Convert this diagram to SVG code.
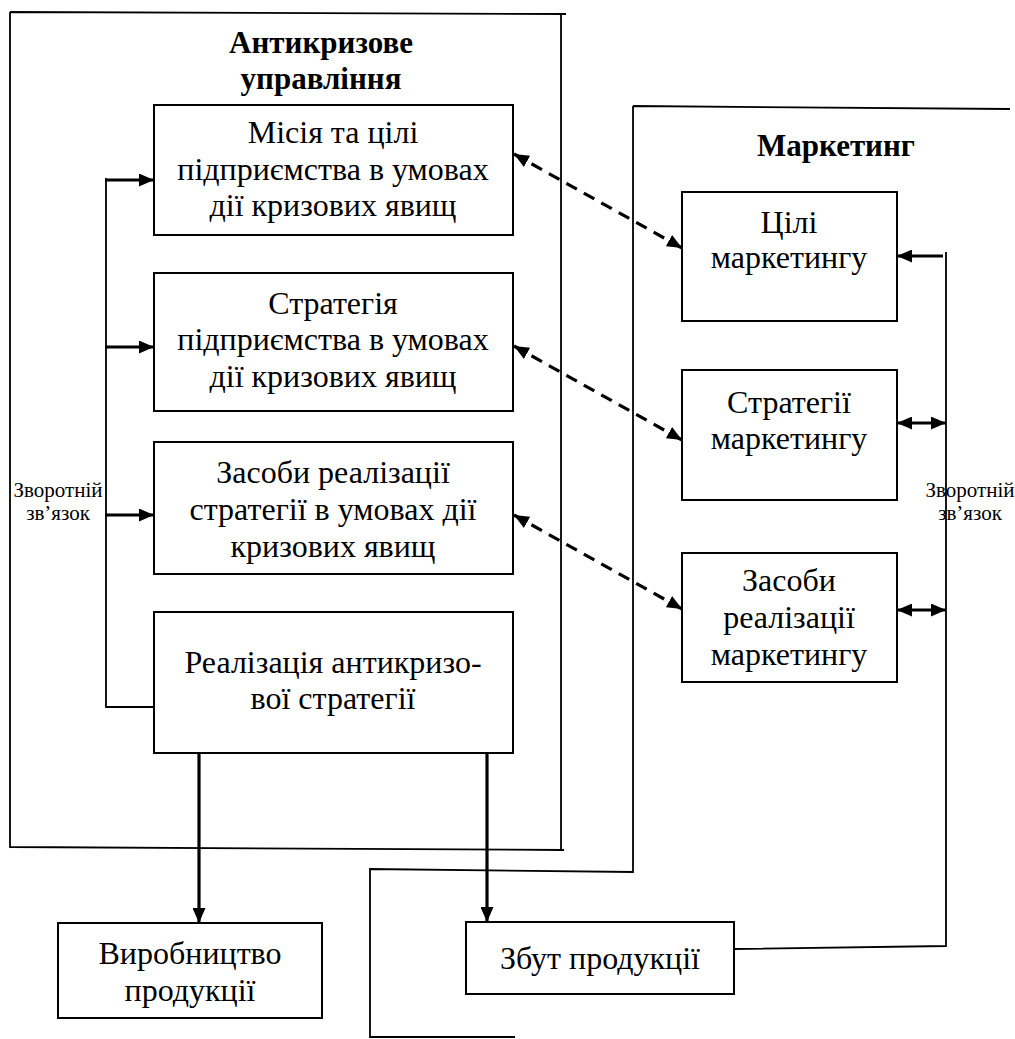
<svg xmlns="http://www.w3.org/2000/svg" width="1015" height="1039" viewBox="0 0 1015 1039">
  <style>
    text { font-family: "Liberation Serif", "Times New Roman", Tinos, "DejaVu Serif", serif; fill: #000; text-anchor: middle; }
    .t { font-size: 32px; }
    .h { font-size: 31px; font-weight: bold; }
    .s { font-size: 21px; }
    .box { fill: #fff; stroke: #000; stroke-width: 2; }
    .frame { fill: none; stroke: #000; stroke-width: 1.8; }
    .fb { fill: none; stroke: #000; stroke-width: 1.8; }
    .arr { fill: none; stroke: #000; stroke-width: 3.2; }
    .dash { fill: none; stroke: #000; stroke-width: 3.2; stroke-dasharray: 12 8; }
  </style>
  <defs>
    <marker id="head" viewBox="0 0 15 13" refX="15" refY="6.5" markerWidth="15" markerHeight="13" markerUnits="userSpaceOnUse" orient="auto-start-reverse">
      <path d="M0,0 L15,6.5 L0,13 Z" fill="#000"/>
    </marker>
  </defs>

  <rect width="1015" height="1039" fill="#fff"/>

  <!-- outer frames -->
  <g id="frame-crisis">
    <path class="frame" d="M10,12 L566,14 M10,12 L10,847 L564,850 M561,13 L561,850"/>
    <text class="h" x="321" y="53">Антикризове</text>
    <text class="h" x="321" y="89">управління</text>
  </g>
  <g id="frame-marketing">
    <path class="frame" d="M633,106 L1010,109 M633,106 L633,872 L370,869 L370,1037 L515,1037"/>
    <text class="h" x="836" y="156">Маркетинг</text>
  </g>

  <!-- anti-crisis blocks -->
  <g id="mission">
    <rect class="box" x="154" y="105" width="359" height="130"/>
    <text class="t" x="333" y="143">Місія та цілі</text>
    <text class="t" x="333" y="180">підприємства в умовах</text>
    <text class="t" x="333" y="216">дії кризових явищ</text>
  </g>
  <g id="strategy">
    <rect class="box" x="154" y="273" width="359" height="138"/>
    <text class="t" x="333" y="314">Стратегія</text>
    <text class="t" x="333" y="350">підприємства в умовах</text>
    <text class="t" x="333" y="387">дії кризових явищ</text>
  </g>
  <g id="means">
    <rect class="box" x="154" y="442" width="359" height="132"/>
    <text class="t" x="333" y="483">Засоби реалізації</text>
    <text class="t" x="333" y="520">стратегії в умовах дії</text>
    <text class="t" x="333" y="557">кризових явищ</text>
  </g>
  <g id="implementation">
    <rect class="box" x="154" y="612" width="359" height="141"/>
    <text class="t" x="333" y="673">Реалізація антикризо-</text>
    <text class="t" x="333" y="709">вої стратегії</text>
  </g>

  <!-- marketing blocks -->
  <g id="mk-goals">
    <rect class="box" x="682" y="192" width="215" height="129"/>
    <text class="t" x="789" y="233">Цілі</text>
    <text class="t" x="789" y="268">маркетингу</text>
  </g>
  <g id="mk-strategy">
    <rect class="box" x="682" y="370" width="215" height="130"/>
    <text class="t" x="789" y="413">Стратегії</text>
    <text class="t" x="789" y="449">маркетингу</text>
  </g>
  <g id="mk-means">
    <rect class="box" x="682" y="553" width="215" height="129"/>
    <text class="t" x="789" y="591">Засоби</text>
    <text class="t" x="789" y="628">реалізації</text>
    <text class="t" x="789" y="665">маркетингу</text>
  </g>

  <!-- outputs -->
  <g id="production">
    <rect class="box" x="58" y="923" width="264" height="95"/>
    <text class="t" x="190" y="964">Виробництво</text>
    <text class="t" x="190" y="1001">продукції</text>
  </g>
  <g id="sales">
    <rect class="box" x="466" y="922" width="268" height="72"/>
    <text class="t" x="600" y="969">Збут продукції</text>
  </g>

  <!-- feedback labels -->
  <g id="feedback-left">
    <text class="s" x="58" y="497">Зворотній</text>
    <text class="s" x="58" y="520">зв’язок</text>
  </g>
  <g id="feedback-right">
    <text class="s" x="970" y="497">Зворотній</text>
    <text class="s" x="970" y="520">зв’язок</text>
  </g>

  <!-- connectors -->
  <g id="connectors">
    <!-- left feedback bus -->
    <path class="fb" d="M106,178 L106,707 L154,707"/>
    <line class="arr" x1="105" y1="180" x2="154" y2="180" marker-end="url(#head)"/>
    <line class="arr" x1="105" y1="347" x2="154" y2="347" marker-end="url(#head)"/>
    <line class="arr" x1="105" y1="515" x2="154" y2="515" marker-end="url(#head)"/>

    <!-- dashed links between the two columns -->
    <line class="dash" x1="514" y1="154" x2="682" y2="248" marker-start="url(#head)" marker-end="url(#head)"/>
    <line class="dash" x1="514" y1="346" x2="682" y2="440" marker-start="url(#head)" marker-end="url(#head)"/>
    <line class="dash" x1="514" y1="515" x2="682" y2="609" marker-start="url(#head)" marker-end="url(#head)"/>

    <!-- outputs of implementation -->
    <line class="arr" x1="199" y1="753" x2="199" y2="923" marker-end="url(#head)"/>
    <line class="arr" x1="487" y1="753" x2="487" y2="922" marker-end="url(#head)"/>

    <!-- right feedback bus -->
    <path class="fb" d="M734,949 L946,946 L946,252"/>
    <line class="arr" x1="943" y1="256" x2="897" y2="256" marker-end="url(#head)"/>
    <line class="arr" x1="897" y1="423" x2="946" y2="423" marker-start="url(#head)" marker-end="url(#head)"/>
    <line class="arr" x1="897" y1="610" x2="946" y2="610" marker-start="url(#head)" marker-end="url(#head)"/>
  </g>
</svg>
